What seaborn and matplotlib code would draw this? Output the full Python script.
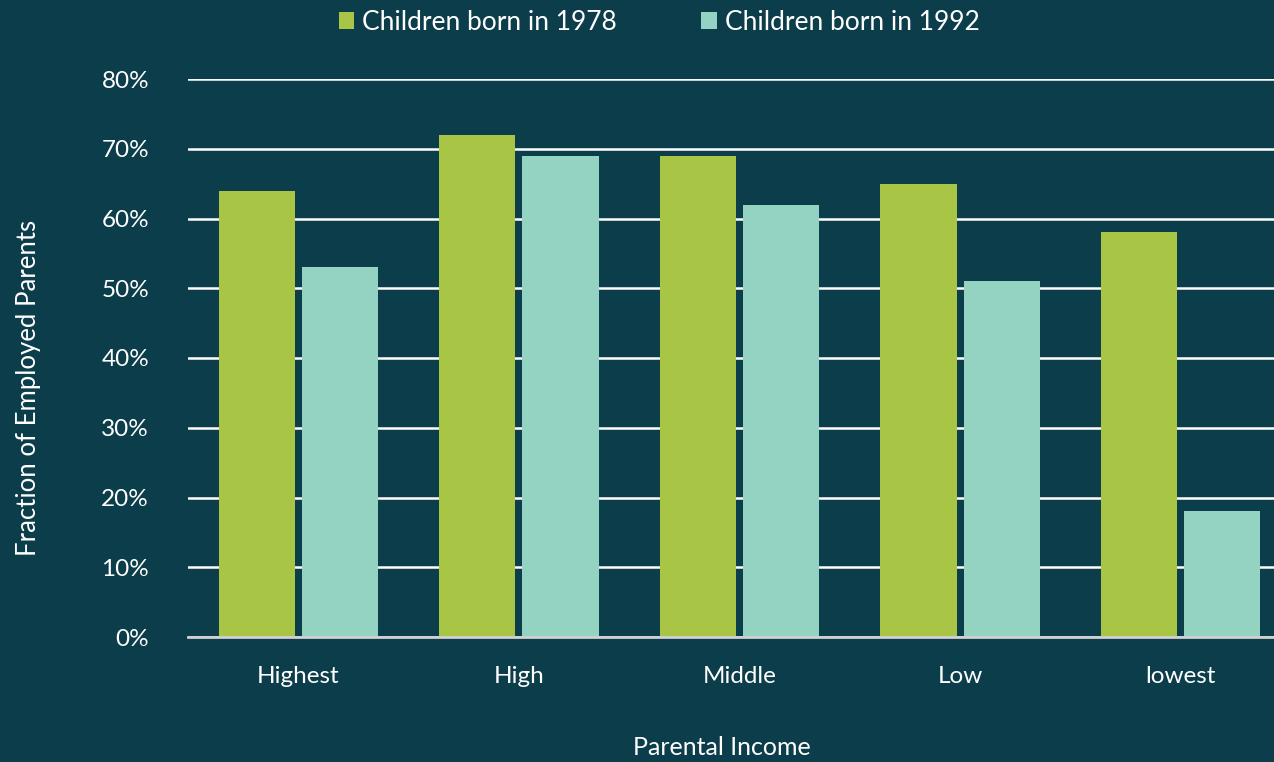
#!/usr/bin/env python3
import matplotlib
matplotlib.use("Agg")
import matplotlib.pyplot as plt
import pandas as pd
import seaborn as sns

# Data
categories = ["Highest", "High", "Middle", "Low", "lowest"]
born_1978 = [0.64, 0.72, 0.69, 0.65, 0.58]
born_1992 = [0.53, 0.69, 0.62, 0.51, 0.18]
series_names = ["Children born in 1978", "Children born in 1992"]
ytick_vals = [0.0, 0.1, 0.2, 0.3, 0.4, 0.5, 0.6, 0.7, 0.8]

bg = "#0b3d4a"
colors = ["#a8c545", "#94d3c1"]

df = pd.DataFrame({
    "income": categories * 2,
    "value": born_1978 + born_1992,
    "cohort": [series_names[0]] * len(categories) + [series_names[1]] * len(categories),
})

sns.set_theme(style="white")
plt.rcParams["font.family"] = ["Lato", "DejaVu Sans"]

fig = plt.figure(figsize=(12.74, 7.62), dpi=100, facecolor=bg)
ax = fig.add_axes([188 / 1274, 125 / 762, (1274 - 188) / 1274, (637 - 79) / 762])
ax.set_facecolor(bg)

sns.barplot(data=df, x="income", y="value", hue="cohort", order=categories,
            hue_order=series_names, palette=colors, saturation=1, width=0.754,
            gap=0.085, linewidth=0, ax=ax, zorder=3)

ax.set_ylim(0, 0.8)
ax.set_xlim(-0.5, 4.5 - (1291 - 1274) / 220.5)
ax.set_yticks(ytick_vals)
ax.set_yticklabels([f"{int(round(v * 100))}%" for v in ytick_vals])
ax.yaxis.grid(True, color="white", linewidth=1.8, zorder=0)
ax.set_axisbelow(True)

for s in ["top", "right", "left"]:
    ax.spines[s].set_visible(False)
ax.spines["bottom"].set_color("#d0d0d0")
ax.spines["bottom"].set_linewidth(2)
ax.spines["bottom"].set_zorder(4)

ax.tick_params(axis="both", length=0, colors="white", labelsize=17.5)
ax.tick_params(axis="y", pad=28)
ax.tick_params(axis="x", pad=21)

ax.set_xlabel("Parental Income", color="white", fontsize=18)
ax.xaxis.set_label_coords(0.492, -0.178)
ax.set_ylabel("Fraction of Employed Parents", color="white", fontsize=18.5)
ax.yaxis.set_label_coords(-0.135, 0.446)

leg = ax.legend(loc="center", bbox_to_anchor=(0.434, 1.102), ncol=2, frameon=False,
                fontsize=19, handlelength=0.6, handleheight=0.6, handletextpad=0.3,
                columnspacing=3.2)
for t in leg.get_texts():
    t.set_color("white")

fig.savefig("out.png", dpi=100, facecolor=bg)
